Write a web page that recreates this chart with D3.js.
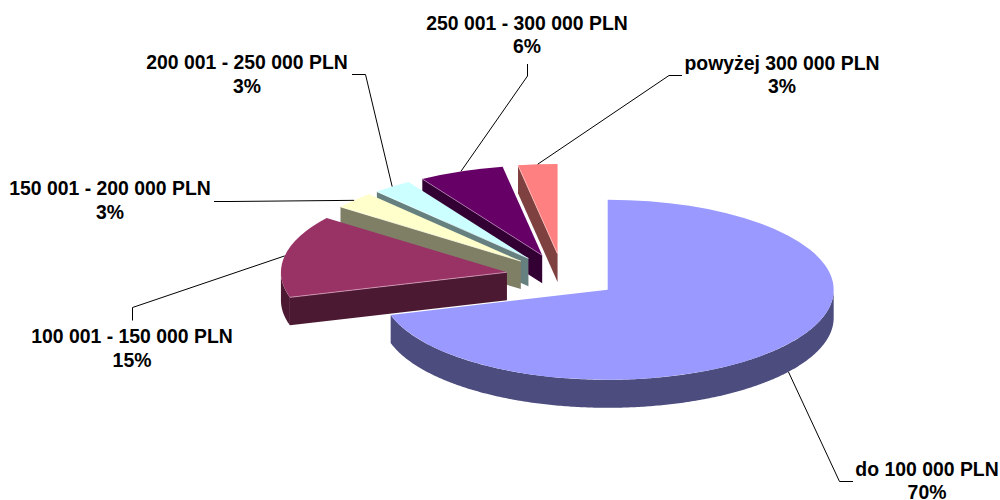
<!DOCTYPE html>
<html><head><meta charset="utf-8">
<style>html,body{margin:0;background:#fff}svg{display:block}text{font-family:"Liberation Sans",Arial,sans-serif;font-weight:bold;font-size:19.4px;fill:#000;text-anchor:middle}</style>
<script src="https://cdn.jsdelivr.net/npm/d3@7"></script>
</head><body><svg id="c" width="1000" height="500"></svg>
<script>
const categories = ["do 100 000 PLN","100 001 - 150 000 PLN","150 001 - 200 000 PLN","200 001 - 250 000 PLN","250 001 - 300 000 PLN","powyżej 300 000 PLN"];
const values = [70.49,14.8,3.0,2.8,6.1,2.8];
const topColors = ["#9999FF","#993366","#FFFFCC","#CCFFFF","#660066","#FF8080"];
const sideColors = ["#4C4C7F","#4C1933","#7F7F66","#667F7F","#330033","#7F4040"];
const edgeColors = ["#ccccff","#d9a0bc","#ffffe6","#e6ffff","#b380b3","#ffc0c0"];
// label layout: text centre, first-line baseline and leader elbow points
const labelX = [927,132,110,247,527,782];
const labelY = [475.5,343,195,69,29.5,69.5];
const leaderElbows = [[[853,481.5],[839.5,481.5]],[[132.5,320.5],[132.5,307.5]],[[214,201.5],[230,201.5]],[[352,74.5],[365.5,74.5]],[[527.5,64],[527.5,76]],[[682,75.5],[669,75.5]]];

const rx=226, ry=90, depth=28, explode=0.25, cx=562.5, cy=276.3;
const svg=d3.select("#c");
const arcs=d3.pie().sort(null).value(d=>d)(values);
const arc=d3.arc().innerRadius(0).outerRadius(rx);
const ex=a=>rx*Math.sin(a), ey=a=>-ry*Math.cos(a);
const line=d3.line();
const order=d3.range(values.length).reverse();
const apex=i=>{const m=(arcs[i].startAngle+arcs[i].endAngle)/2;return [cx+explode*ex(m),cy+explode*ey(m)];};

order.forEach(i=>{
  const d=arcs[i],[ax,ay]=apex(i),g=svg.append("g");
  // outer wall: portion of the rim facing the viewer (angles between 90deg and 270deg)
  const a0=Math.max(d.startAngle,Math.PI/2), a1=Math.min(d.endAngle,1.5*Math.PI);
  if(a1>a0){
    const rim=d3.range(a0,a1,0.01).concat([a1]).map(a=>[ax+ex(a),ay+ey(a)]);
    const wall=rim.concat(rim.slice().reverse().map(p=>[p[0],p[1]+depth]));
    g.append("path").attr("d",line(wall)+"Z").attr("fill",sideColors[i]);
  }
  // cut face along the start edge, visible for the slices on the left side
  const p=[ax+ex(d.startAngle),ay+ey(d.startAngle)];
  if(d.startAngle>Math.PI){
    g.append("path").attr("d",line([[ax,ay],p,[p[0],p[1]+depth],[ax,ay+depth]])+"Z").attr("fill",sideColors[i]);
  }
  g.append("path").attr("d",arc(d)).attr("fill",topColors[i])
    .attr("transform",`translate(${ax},${ay}) scale(1,${ry/rx})`);
  if(d.startAngle>Math.PI){
    g.append("path").attr("d",line([[ax,ay],p])).attr("stroke",edgeColors[i]).attr("stroke-width",0.8).attr("fill","none");
  }
});

categories.forEach((c,i)=>{
  const d=arcs[i],[ax,ay]=apex(i),m=(d.startAngle+d.endAngle)/2;
  const inFront=m>Math.PI/2&&m<1.5*Math.PI;
  const start=[ax+ex(m),ay+ey(m)+(inFront?depth:0)];
  svg.append("path").attr("d",line([leaderElbows[i][0],leaderElbows[i][1],start])).attr("fill","none").attr("stroke","#000").attr("stroke-width",1);
  const t=svg.append("text").attr("x",labelX[i]).attr("y",labelY[i]);
  t.append("tspan").attr("x",labelX[i]).text(c);
  t.append("tspan").attr("x",labelX[i]).attr("dy",23.5).text(d3.format(".0f")(values[i])+"%");
});
</script></body></html>
